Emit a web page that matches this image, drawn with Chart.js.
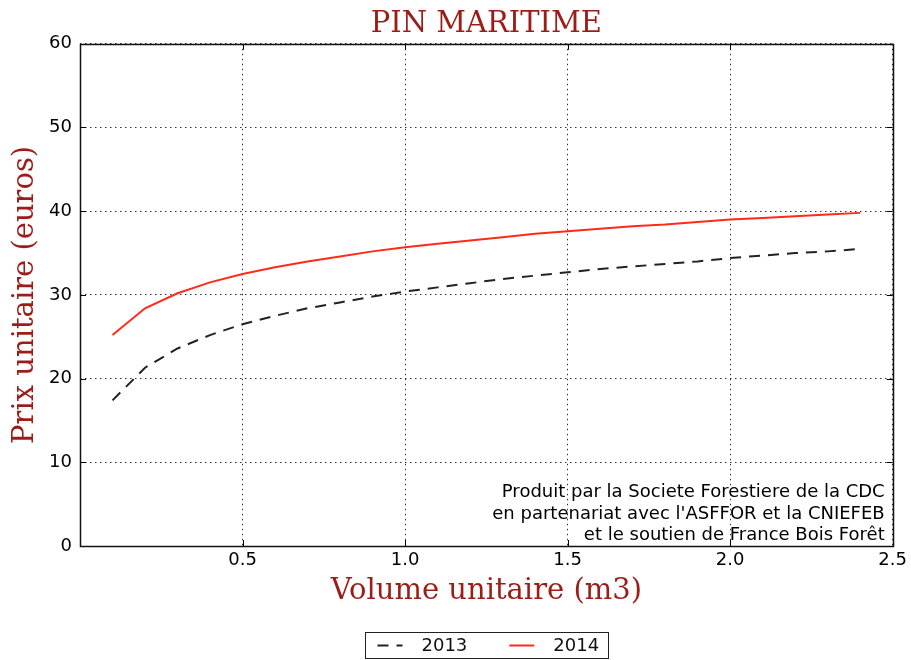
<!DOCTYPE html>
<html><head><meta charset="utf-8">
<script src="https://cdn.jsdelivr.net/npm/chart.js@4/dist/chart.umd.min.js"></script>
<style>html,body{margin:0;padding:0;background:#fff;}</style>
</head><body>
<canvas id="c" width="911" height="660"></canvas>
<script>
// ---- data ----
const volumes   = [0.1,0.2,0.3,0.4,0.5,0.6,0.7,0.8,0.9,1.0,1.1,1.2,1.3,1.4,1.5,1.6,1.7,1.8,1.9,2.0,2.1,2.2,2.3,2.4];
const prix2013  = [17.4,21.3,23.6,25.2,26.5,27.5,28.4,29.1,29.8,30.4,30.9,31.4,31.9,32.3,32.7,33.1,33.4,33.7,34.0,34.4,34.7,35.0,35.2,35.5];
const prix2014  = [25.2,28.4,30.2,31.5,32.5,33.3,34.0,34.6,35.2,35.7,36.1,36.5,36.9,37.3,37.6,37.9,38.2,38.4,38.7,39.0,39.2,39.4,39.6,39.8];
const seriesLabels = ['2013','2014'];
const xTicks = [0.5,1.0,1.5,2.0,2.5];
const yTicks = [0,10,20,30,40,50,60];
const titleText = 'PIN MARITIME';
const xTitle = 'Volume unitaire (m3)';
const yTitle = 'Prix unitaire (euros)';
const creditLines = ['Produit par la Societe Forestiere de la CDC',
                     "en partenariat avec l'ASFFOR et la CNIEFEB",
                     'et le soutien de France Bois Forêt'];

const DARKRED = '#9c1c17';
const SANS = '"DejaVu Sans", sans-serif';
const SERIF = '"DejaVu Serif", serif';

const framePlugin = {
  id: 'frame',
  afterDraw(chart) {
    const {ctx, chartArea: a, scales: {x, y}} = chart;
    ctx.save();
    // inward ticks
    ctx.strokeStyle = '#000'; ctx.lineWidth = 1; ctx.setLineDash([]);
    const tl = 6;
    ctx.beginPath();
    xTicks.forEach(v => {
      const px = Math.round(x.getPixelForValue(v)) + 0.5;
      ctx.moveTo(px, a.bottom); ctx.lineTo(px, a.bottom - tl);
      ctx.moveTo(px, a.top); ctx.lineTo(px, a.top + tl);
    });
    yTicks.forEach(v => {
      const py = Math.round(y.getPixelForValue(v)) + 0.5;
      ctx.moveTo(a.left, py); ctx.lineTo(a.left + tl, py);
      ctx.moveTo(a.right, py); ctx.lineTo(a.right - tl, py);
    });
    ctx.stroke();
    // frame
    ctx.lineWidth = 1.5; ctx.strokeStyle = '#111';
    ctx.strokeRect(Math.round(a.left) + 0.5, Math.round(a.top) + 0.5, Math.round(a.right - a.left), Math.round(a.bottom - a.top));
    // credit text
    ctx.fillStyle = '#000';
    ctx.font = '18px ' + SANS;
    ctx.textAlign = 'right'; ctx.textBaseline = 'alphabetic';
    creditLines.forEach((t, i) => ctx.fillText(t, a.right - 8, a.bottom - 49 + i * 21.5));
    // legend
    const ds = chart.data.datasets;
    ctx.font = '18px ' + SANS;
    const padL = 12, padR = 9, sampleW = 25, gapT = 19, gapItem = 42;
    const widths = ds.map(d => ctx.measureText(d.label).width);
    let total = padL + padR;
    widths.forEach((w, i) => { total += sampleW + gapT + w + (i < ds.length - 1 ? gapItem : 0); });
    const cx = (a.left + a.right) / 2;
    const left = Math.round(cx - total / 2) + 0.5;
    const top = a.bottom + 86.5;
    const h = 26;
    ctx.lineWidth = 1; ctx.strokeStyle = '#222';
    ctx.strokeRect(left, top, Math.round(total), h);
    let cur = left + padL;
    const cy = top + h / 2;
    ds.forEach((d, i) => {
      ctx.beginPath();
      ctx.strokeStyle = d.borderColor; ctx.lineWidth = d.borderWidth;
      ctx.setLineDash(d.borderDash || []);
      ctx.moveTo(cur, cy); ctx.lineTo(cur + sampleW, cy); ctx.stroke();
      ctx.setLineDash([]);
      cur += sampleW + gapT;
      ctx.fillStyle = '#111'; ctx.textAlign = 'left'; ctx.textBaseline = 'middle';
      ctx.fillText(d.label, cur, cy + 1);
      cur += widths[i] + gapItem;
    });
    ctx.restore();
  }
};

new Chart(document.getElementById('c'), {
  type: 'line',
  data: {
    datasets: [
      { label: seriesLabels[0], data: volumes.map((v, i) => ({x: v, y: prix2013[i]})),
        borderColor: '#222', borderWidth: 2, borderDash: [11, 8], pointRadius: 0, fill: false, tension: 0 },
      { label: seriesLabels[1], data: volumes.map((v, i) => ({x: v, y: prix2014[i]})),
        borderColor: '#ff2a1a', borderWidth: 2, pointRadius: 0, fill: false, tension: 0 }
    ]
  },
  options: {
    responsive: false, animation: false, devicePixelRatio: 1,
    layout: { padding: { left: 0, right: 18, top: 0, bottom: 30 } },
    plugins: {
      legend: { display: false },
      tooltip: { enabled: false },
      title: { display: true, fullSize: false, text: titleText, color: DARKRED,
               font: { family: SERIF, size: 29, weight: 'normal' }, padding: { top: 7, bottom: 2 } }
    },
    scales: {
      x: {
        type: 'linear', min: 0, max: 2.5,
        afterBuildTicks: s => { s.ticks = xTicks.map(v => ({value: v})); },
        afterFit: s => { s.height = 84; },
        ticks: { callback: v => v.toFixed(1), color: '#000', font: { family: SANS, size: 18 }, padding: 4, maxRotation: 0 },
        grid: { color: 'rgba(0,0,0,0.8)', lineWidth: 1, drawTicks: false },
        border: { display: false, dash: [1.5, 3.5] },
        title: { display: true, text: xTitle, color: DARKRED, font: { family: SERIF, size: 29 }, padding: { top: 0, bottom: 21 } }
      },
      y: {
        type: 'linear', min: 0, max: 60,
        afterBuildTicks: s => { s.ticks = yTicks.map(v => ({value: v})); },
        afterFit: s => { s.width = 80; },
        ticks: { callback: v => String(v), color: '#000', font: { family: SANS, size: 18 }, padding: 8 },
        grid: { color: 'rgba(0,0,0,0.8)', lineWidth: 1, drawTicks: false },
        border: { display: false, dash: [1.5, 3.5] },
        title: { display: true, text: yTitle, color: DARKRED, font: { family: SERIF, size: 29 }, padding: { top: 8, bottom: 0 } }
      }
    }
  },
  plugins: [framePlugin]
});
</script>
</body></html>
